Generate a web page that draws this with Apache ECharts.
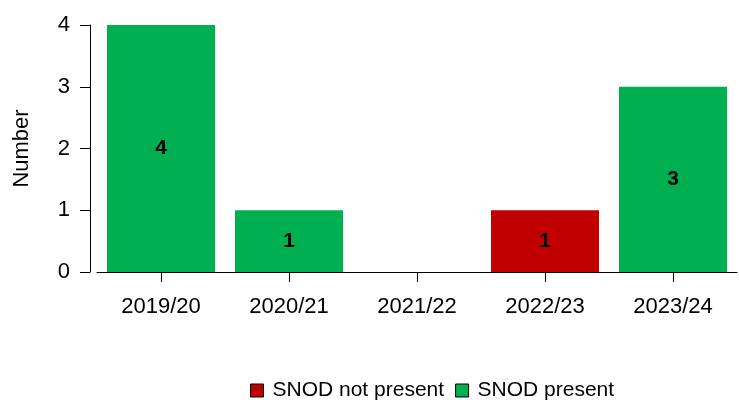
<!DOCTYPE html>
<html>
<head>
<meta charset="utf-8">
<script src="https://cdn.jsdelivr.net/npm/echarts@6/dist/echarts.min.js"></script>
<style>
  html, body { margin: 0; padding: 0; background: #fff; }
  #chart { width: 739px; height: 400px; }
</style>
</head>
<body>
<div id="chart"></div>
<script>
const seasons = ["2019/20", "2020/21", "2021/22", "2022/23", "2023/24"];
const notPresent = [0, 0, 0, 1, 0];
const present = [4, 1, 0, 0, 3];
const yTicks = [0, 1, 2, 3, 4];

const myChart = echarts.init(document.getElementById("chart"));

// hide zero-value labels
const labelFmt = (p) => (p.value ? p.value : "");

const option = {
  animation: false,
  textStyle: { fontFamily: "Liberation Sans, Arial, sans-serif" },
  grid: { left: 97, right: 2, top: 25, bottom: 128 },
  legend: {
    left: 250,
    top: 380,
    padding: 0,
    itemWidth: 13,
    itemHeight: 13,
    itemGap: 11,
    icon: "rect",
    textStyle: { fontSize: 21, color: "#000", padding: [0, 0, 0, 4] },
    data: [
      { name: "SNOD not present", itemStyle: { borderColor: "#000", borderWidth: 1 } },
      { name: "SNOD present", itemStyle: { borderColor: "#000", borderWidth: 1 } },
    ],
  },
  xAxis: {
    type: "category",
    data: seasons,
    axisLine: { lineStyle: { color: "#000", width: 1 } },
    axisTick: { show: true, alignWithLabel: true, length: 10, lineStyle: { color: "#000" } },
    axisLabel: { color: "#000", fontSize: 22, margin: 24 },
  },
  yAxis: {
    type: "value",
    min: yTicks[0],
    max: yTicks[yTicks.length - 1],
    interval: 1,
    offset: 7,
    name: "Number",
    nameLocation: "middle",
    nameGap: 57,
    nameTextStyle: { color: "#000", fontSize: 22 },
    axisLine: { show: true, lineStyle: { color: "#000", width: 1 } },
    axisTick: { show: true, length: 10, lineStyle: { color: "#000" } },
    axisLabel: { color: "#000", fontSize: 22, margin: 20 },
    splitLine: { show: false },
  },
  series: [
    {
      name: "SNOD not present",
      type: "bar",
      stack: "total",
      barWidth: 108,
      data: notPresent,
      itemStyle: { color: "#c00000" },
      label: { show: true, position: "inside", color: "#000", fontSize: 21, fontWeight: "bold", formatter: labelFmt },
    },
    {
      name: "SNOD present",
      type: "bar",
      stack: "total",
      barWidth: 108,
      data: present,
      itemStyle: { color: "#00b050" },
      label: { show: true, position: "inside", color: "#000", fontSize: 21, fontWeight: "bold", formatter: labelFmt },
    },
  ],
};

myChart.setOption(option);
</script>
</body>
</html>
